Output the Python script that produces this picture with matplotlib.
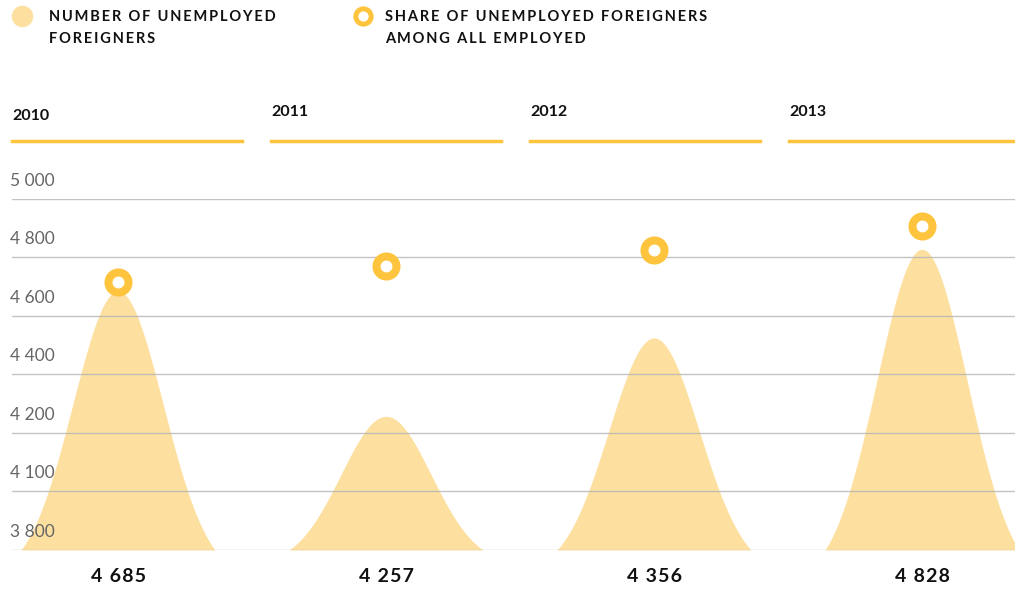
import numpy as np
import matplotlib.pyplot as plt
from matplotlib.lines import Line2D

years = ["2010", "2011", "2012", "2013"]
unemployed = [4685, 4257, 4356, 4828]          # labelled values
peak_height = [4685, 4257, 4525, 4828]         # drawn peak
share_pos = [4717, 4771, 4826, 4908]           # marker level
yticks = [3800, 4000, 4200, 4400, 4600, 4800, 5000]
ytick_labels = ["3 800", "4 100", "4 200", "4 400", "4 600", "4 800", "5 000"]
legend_labels = ["NUMBER OF UNEMPLOYED\nFOREIGNERS",
                 "SHARE OF UNEMPLOYED FOREIGNERS\nAMONG ALL EMPLOYED"]

FILL = "#FDE0A0"
GOLD = "#FFC43D"
plt.rcParams["font.family"] = ["Lato", "DejaVu Sans"]


def spaced(s, sep="\u2009"):
    return "\n".join(sep.join(line) for line in s.split("\n"))


W, H = 1015, 590
fig = plt.figure(figsize=(W / 100, H / 100), dpi=100)
ax = fig.add_axes([12 / W, (H - 550) / H, 1 - 12 / W, 351 / H])
ax.set_xlim((12 - 118) / 268, (1015 - 118) / 268)
ax.set_ylim(3800, 5000)
ax.axis("off")

base = 3800
half = 0.362
sig = half / 2.15
g_edge = np.exp(-half**2 / (2 * sig**2))
for i, h in enumerate(peak_height):
    u = np.linspace(-half, half, 300)
    g = (np.exp(-u**2 / (2 * sig**2)) - g_edge) / (1 - g_edge)
    ax.fill_between(i + u, base, base + (h - base) * g, color=FILL, lw=0, zorder=1, clip_on=False)
    ax.annotate(spaced(f"{unemployed[i]:,}".replace(",", " "), "\u200a"), (i, base),
                xytext=(0, -19), textcoords="offset points", ha="center", va="center",
                fontsize=14, fontweight="bold", color="#111111", annotation_clip=False)

for yv, lab in zip(yticks, ytick_labels):
    ax.axhline(yv, color="#b4b4b4", lw=1, zorder=2, alpha=0.8)
    ax.annotate(lab, (-2 / 1003, yv), xycoords=("axes fraction", "data"),
                xytext=(0, 7.5), textcoords="offset points", ha="left", va="bottom",
                fontsize=12.5, color="#666666", annotation_clip=False)

ax.plot(range(4), share_pos, ls="none", marker="o", ms=14.4, mew=5.8,
        mec=GOLD, mfc="white", zorder=4, clip_on=False)

# year headers
for i, yr in enumerate(years):
    x0 = (12 + 259 * i) / W
    fig.text(x0, 1 - (116 if i == 0 else 112) / H, yr, ha="left", va="center",
             fontsize=11.5, fontweight="bold", color="#111111")
    fig.add_artist(Line2D([x0, x0 + 230 / W], [1 - 141 / H, 1 - 141 / H],
                          color=GOLD, lw=2.5, transform=fig.transFigure))

# legend
fig.add_artist(Line2D([22 / W], [1 - 16 / H], marker="o", ms=15.5, mec="none",
                      mfc=FILL, transform=fig.transFigure))
fig.add_artist(Line2D([363 / W], [1 - 16 / H], marker="o", ms=11, mew=3.6,
                      mec=GOLD, mfc="white", transform=fig.transFigure))
for txt, x in zip(legend_labels, [49, 385]):
    fig.text(x / W, 1 - 10 / H, spaced(txt), ha="left", va="top", fontsize=10.5,
             fontweight="bold", color="#111111", linespacing=1.75)

fig.savefig("out.png", dpi=100)
